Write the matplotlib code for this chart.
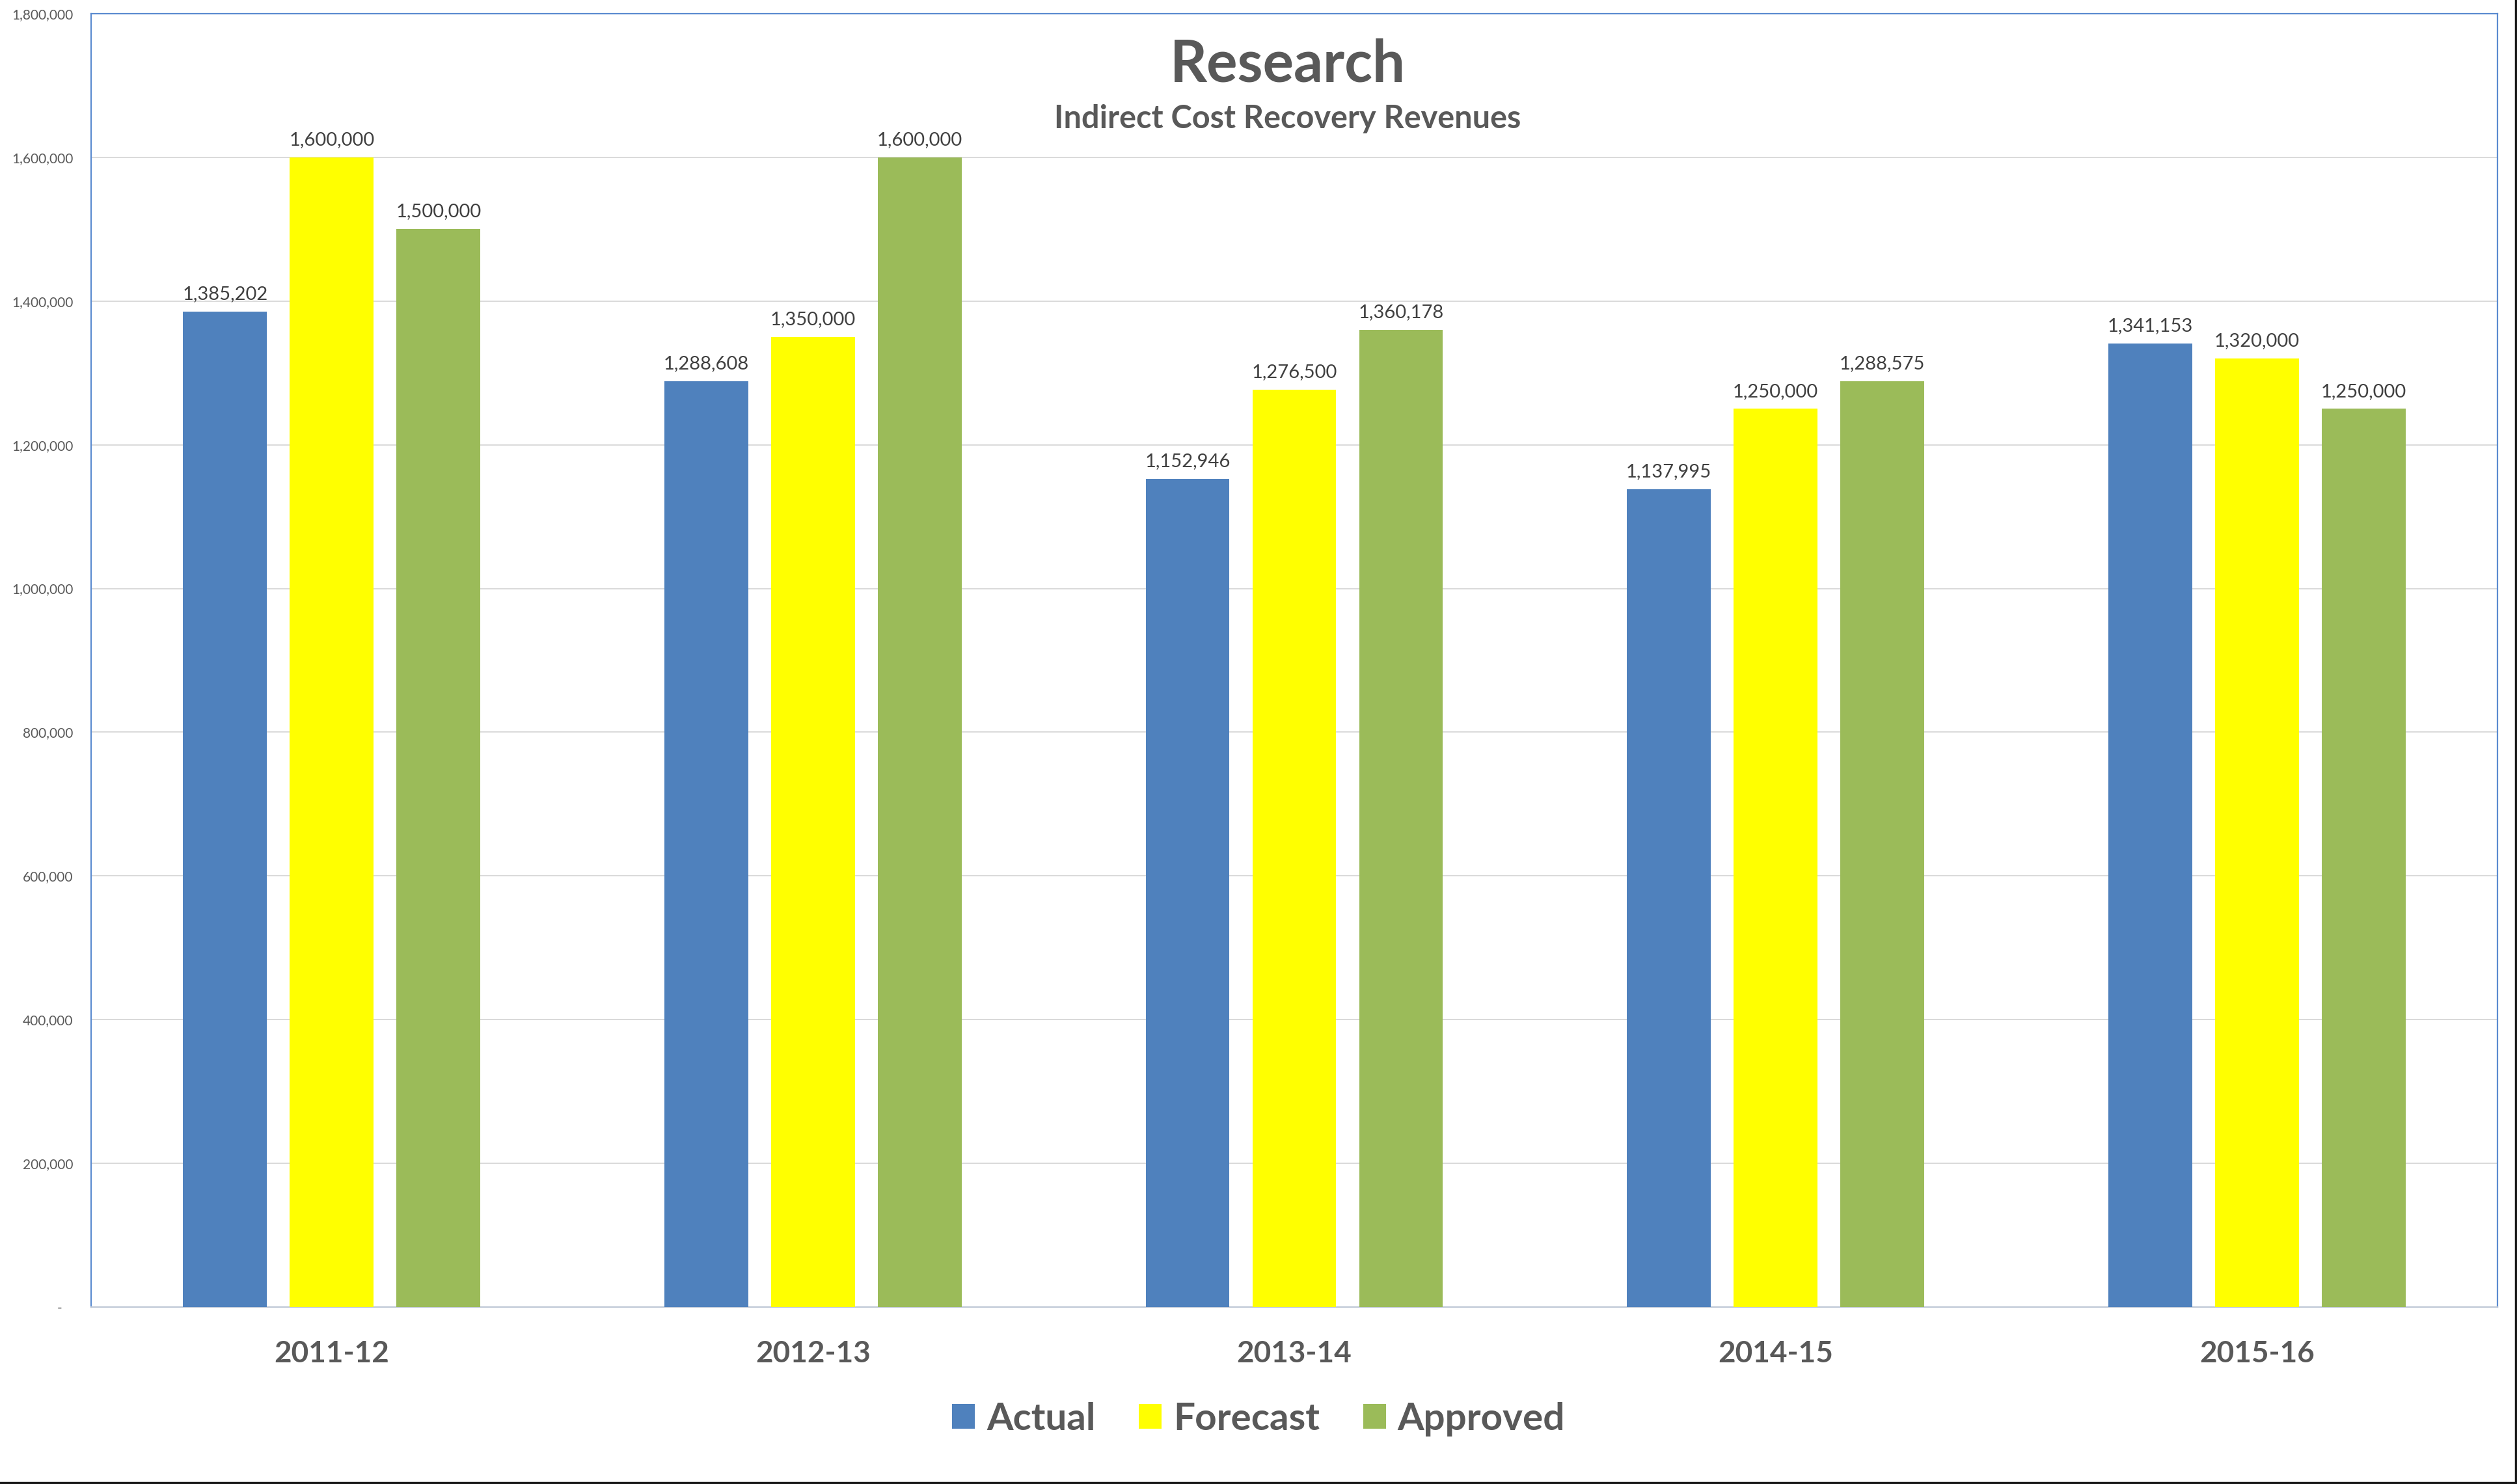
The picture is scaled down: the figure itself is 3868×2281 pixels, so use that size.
import numpy as np
import matplotlib
matplotlib.use("Agg")
import matplotlib.pyplot as plt
from matplotlib.lines import Line2D
from matplotlib.ticker import FuncFormatter

# data
years = ["2011-12", "2012-13", "2013-14", "2014-15", "2015-16"]
actual = [1385202, 1288608, 1152946, 1137995, 1341153]
forecast = [1600000, 1350000, 1276500, 1250000, 1320000]
approved = [1500000, 1600000, 1360178, 1288575, 1250000]

series_names = ["Actual", "Forecast", "Approved"]
series_colors = ["#4F81BD", "#FFFF00", "#9BBB59"]

plt.rcParams["font.family"] = ["Lato", "DejaVu Sans"]
text_gray = "#595959"

fig = plt.figure(figsize=(38.68, 22.81), dpi=100)
ax = fig.add_axes([140 / 3868, 1 - 2009 / 2281, (3838 - 140) / 3868, (2009 - 21) / 2281])

x = np.arange(len(years))
width = 0.174
step = 0.2217

for i, (vals, name, col) in enumerate(zip([actual, forecast, approved], series_names, series_colors)):
    bars = ax.bar(x + (i - 1) * step, vals, width, color=col, label=name, zorder=3)
    # value labels above each bar
    ax.bar_label(bars, labels=[f"{v:,}" for v in vals], padding=10,
                 fontsize=21, color="#404040")

ax.set_xlim(-0.5, len(years) - 0.5)
ax.set_ylim(0, 1800000)
ax.set_yticks(np.arange(0, 1800001, 200000))
ax.yaxis.set_major_formatter(FuncFormatter(lambda v, p: "-   " if v == 0 else f"{int(v):,}"))
ax.tick_params(axis="y", length=0, pad=20, labelsize=15, labelcolor=text_gray)

ax.set_xticks(x)
ax.set_xticklabels(years, fontsize=33, fontweight="bold", color=text_gray)
ax.tick_params(axis="x", length=0, pad=37)

ax.grid(axis="y", color="#D9D9D9", linewidth=1.4, zorder=0)
ax.set_axisbelow(True)

for side in ["left", "top", "right"]:
    ax.spines[side].set_color("#5B8BD0")
    ax.spines[side].set_linewidth(1.6)
ax.spines["bottom"].set_color("#BFC8D6")
ax.spines["bottom"].set_linewidth(1.6)

# titles
fig.text(1979 / 3868, 1 - 126 / 2281, "Research", ha="center", va="baseline",
         fontsize=64, fontweight="bold", color=text_gray)
fig.text(1979 / 3868, 1 - 197 / 2281, "Indirect Cost Recovery Revenues", ha="center",
         va="baseline", fontsize=35, fontweight="bold", color=text_gray)

leg = fig.legend(loc="center", bbox_to_anchor=(0.5, 0.0438), ncol=3, frameon=False,
                 prop={"size": 42, "weight": "bold"}, handlelength=0.6, handleheight=0.64,
                 handletextpad=0.3, columnspacing=1.15)
for t in leg.get_texts():
    t.set_color(text_gray)

# outer border (right and bottom edge of the screenshot)
fig.add_artist(Line2D([3866 / 3868, 3866 / 3868], [0.0009, 1], transform=fig.transFigure,
                      color="#1a1a1a", linewidth=2.5))
fig.add_artist(Line2D([0, 3866 / 3868], [0.0009, 0.0009], transform=fig.transFigure,
                      color="#1a1a1a", linewidth=2.5))

fig.savefig("out.png", dpi=100, facecolor="white")
